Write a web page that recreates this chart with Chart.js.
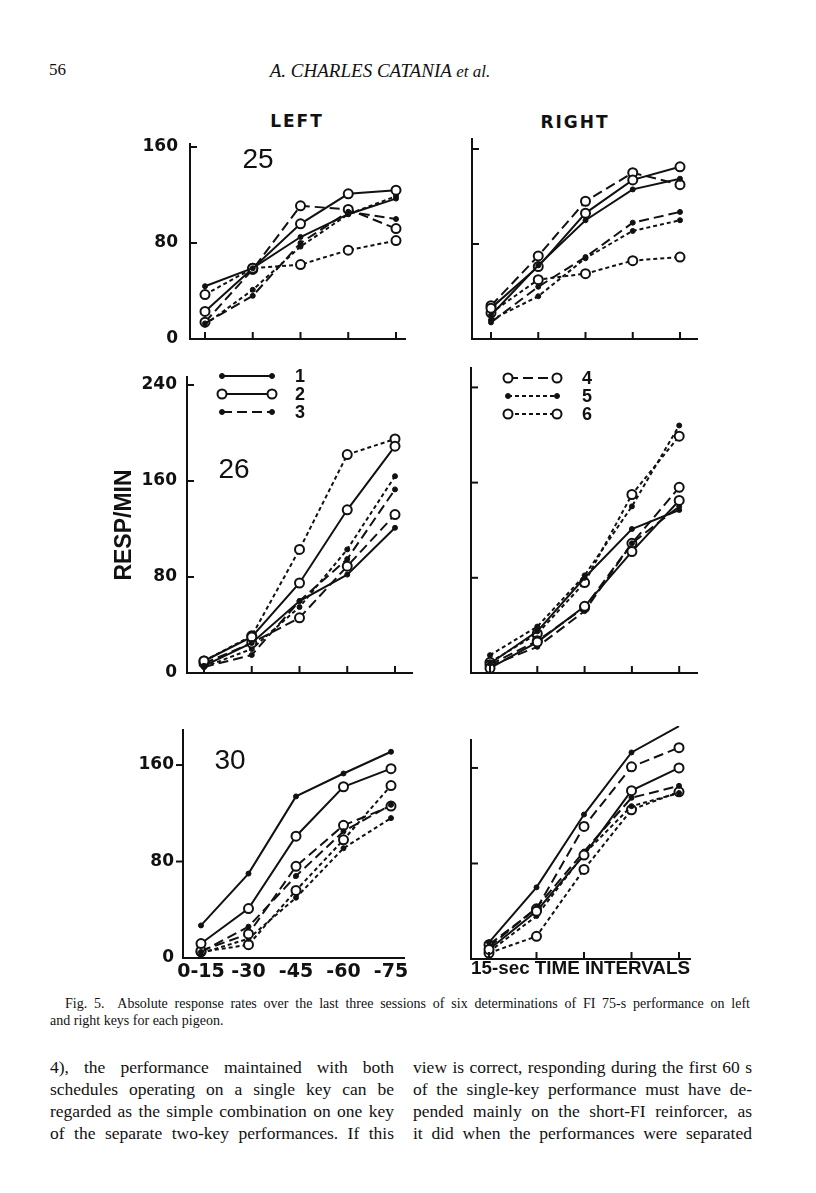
<!DOCTYPE html>
<html>
<head>
<meta charset="utf-8">
<script src="https://cdn.jsdelivr.net/npm/chart.js@4.4.0/dist/chart.umd.min.js"></script>
<style>
html, body { margin: 0; padding: 0; background: #fff; }
#page { position: relative; width: 816px; height: 1193px; overflow: hidden; background: #fff; color: #111; }
#page canvas { position: absolute; }
.txt { position: absolute; white-space: nowrap; }
.mid { transform: translate(-50%, -50%); }
.serif { font-family: "Liberation Serif", "DejaVu Serif", serif; }
.head { font-family: "DejaVu Sans", sans-serif; font-weight: bold; font-size: 17px; letter-spacing: 2px; }
.jl { text-align: justify; text-align-last: justify; white-space: normal; }
.cap { font-size: 14px; line-height: 16px; }
.body { font-size: 17.5px; line-height: 22px; }
</style>
</head>
<body>
<div id="page">
  <div class="txt serif" style="left:49px; top:60px; font-size:17px;">56</div>
  <div class="txt serif mid" style="left:380px; top:71px; font-size:19px; font-style:italic;">A. CHARLES CATANIA <span style="font-size:17px">et al.</span></div>

  <div class="txt head mid" style="left:297px; top:121px;">LEFT</div>
  <div class="txt head mid" style="left:575px; top:122px;">RIGHT</div>

  <canvas id="c25L"></canvas>
  <canvas id="c25R"></canvas>
  <canvas id="c26L"></canvas>
  <canvas id="c26R"></canvas>
  <canvas id="c30L"></canvas>
  <canvas id="c30R"></canvas>

  <div class="txt serif cap jl" style="left:65px; top:996px; width:685px;">Fig. 5.&nbsp; Absolute response rates over the last three sessions of six determinations of FI 75-s performance on left</div>
  <div class="txt serif cap" style="left:50px; top:1013px;">and right keys for each pigeon.</div>

  <div class="txt serif body jl" style="left:50px; top:1056px; width:344px;">4), the performance maintained with both</div>
  <div class="txt serif body jl" style="left:50px; top:1078px; width:344px;">schedules operating on a single key can be</div>
  <div class="txt serif body jl" style="left:50px; top:1100px; width:344px;">regarded as the simple combination on one key</div>
  <div class="txt serif body jl" style="left:50px; top:1122px; width:344px;">of the separate two-key performances. If this</div>
  <div class="txt serif body jl" style="left:413px; top:1056px; width:339px;">view is correct, responding during the first 60 s</div>
  <div class="txt serif body jl" style="left:413px; top:1078px; width:339px;">of the single-key performance must have de-</div>
  <div class="txt serif body jl" style="left:413px; top:1100px; width:339px;">pended mainly on the short-FI reinforcer, as</div>
  <div class="txt serif body jl" style="left:413px; top:1122px; width:339px;">it did when the performances were separated</div>
</div>

<script>
// x categories (15-s intervals) and the six determinations
const intervals = ['0-15', '-30', '-45', '-60', '-75'];
const determinations = ['1', '2', '3', '4', '5', '6'];
const yTicks160 = [0, 80, 160];
const yTicks240 = [0, 80, 160, 240];

// resp/min, one row per determination 1..6
const left25 = [
    [44, 59, 85, 104, 117],
    [23, 59, 96, 121, 124],
    [13, 36, 80, 106, 100],
    [14, 58, 111, 108, 92],
    [12, 41, 77, 104, 119],
    [37, 59, 62, 74, 82]
];
const right25 = [
    [20, 62, 100, 126, 135],
    [26, 61, 106, 134, 145],
    [14, 44, 69, 98, 107],
    [28, 70, 116, 140, 130],
    [16, 36, 68, 91, 100],
    [22, 50, 55, 66, 69]
];
const left26 = [
    [6, 25, 60, 82, 121],
    [10, 30, 75, 136, 189],
    [5, 15, 60, 95, 153],
    [8, 25, 46, 89, 132],
    [5, 20, 55, 103, 164],
    [10, 31, 103, 182, 195]
];
const right26 = [
    [8, 35, 80, 121, 137],
    [4, 26, 56, 102, 145],
    [6, 22, 52, 109, 140],
    [7, 27, 55, 109, 156],
    [15, 39, 82, 140, 208],
    [9, 33, 76, 150, 199]
];
const left30 = [
    [27, 70, 134, 153, 171],
    [12, 41, 101, 142, 157],
    [5, 26, 68, 105, 127],
    [6, 20, 76, 110, 126],
    [4, 16, 50, 91, 116],
    [5, 11, 56, 98, 143]
];
const right30 = [
    [14, 60, 121, 173, 195],
    [8, 40, 87, 141, 160],
    [10, 43, 90, 135, 145],
    [12, 42, 111, 161, 177],
    [6, 36, 88, 128, 139],
    [5, 19, 75, 125, 140]
];

const ink = '#111';

// line style per determination: 1 solid dot, 2 solid open, 3 long dash dot,
// 4 long dash open, 5 short dash dot, 6 short dash open
const seriesStyle = [
    { dash: [], open: false },
    { dash: [], open: true },
    { dash: [10, 5], open: false },
    { dash: [10, 5], open: true },
    { dash: [4, 3], open: false },
    { dash: [4, 3], open: true }
];

// inner tick marks, panel number and the split legend
const panelDecor = {
    id: 'panelDecor',
    afterDraw(chart, args, opts) {
        const { ctx, chartArea: a, scales: { x, y } } = chart;
        ctx.save();
        ctx.strokeStyle = ink;
        ctx.lineWidth = 2;
        if (opts.xMarks) {
            x.ticks.forEach(t => {
                const px = x.getPixelForValue(t.value);
                ctx.beginPath();
                ctx.moveTo(px, a.bottom);
                ctx.lineTo(px, a.bottom - 7);
                ctx.stroke();
            });
        }
        y.ticks.forEach(t => {
            if (t.value === 0) return;
            const py = y.getPixelForValue(t.value);
            ctx.beginPath();
            ctx.moveTo(a.left, py);
            ctx.lineTo(a.left + opts.yMarkDir * 7, py);
            ctx.stroke();
        });
        ctx.fillStyle = ink;
        if (opts.number) {
            ctx.font = '28px "Liberation Sans", Arial, sans-serif';
            ctx.textAlign = 'center';
            ctx.textBaseline = 'middle';
            ctx.fillText(opts.number, a.left + opts.numberAt[0], a.top + opts.numberAt[1]);
        }
        if (opts.legend) {
            const lg = opts.legend;
            ctx.font = 'bold 18px "Liberation Sans", Arial, sans-serif';
            ctx.textAlign = 'center';
            ctx.textBaseline = 'middle';
            lg.items.forEach((k, r) => {
                const ds = chart.data.datasets[k];
                const yy = a.top + lg.y0 + r * lg.dy;
                const x1 = a.left + lg.x1, x2 = a.left + lg.x2;
                ctx.setLineDash(ds.borderDash);
                ctx.lineWidth = 2;
                ctx.beginPath();
                ctx.moveTo(x1, yy);
                ctx.lineTo(x2, yy);
                ctx.stroke();
                ctx.setLineDash([]);
                [x1, x2].forEach(px => {
                    ctx.beginPath();
                    ctx.arc(px, yy, ds.pointRadius, 0, Math.PI * 2);
                    ctx.fillStyle = ds.pointBackgroundColor;
                    ctx.fill();
                    ctx.lineWidth = ds.pointBorderWidth;
                    ctx.stroke();
                });
                ctx.fillStyle = ink;
                ctx.fillText(ds.label, a.left + lg.tx, yy + 1);
            });
        }
        ctx.restore();
    }
};

function makeDatasets(rows) {
    return rows.map((vals, i) => {
        const st = seriesStyle[i];
        return {
            label: determinations[i],
            data: vals.map((v, j) => ({ x: j, y: v })),
            borderColor: ink,
            borderWidth: 2,
            borderDash: st.dash,
            pointRadius: st.open ? 4.5 : 2.5,
            pointBorderWidth: st.open ? 2 : 1,
            pointBackgroundColor: st.open ? '#fff' : ink,
            pointBorderColor: ink,
            tension: 0,
            clip: false
        };
    });
}

// geometry of each panel on the page: axis box L..R, T..B, first-interval pixel and spacing
const panels = [
    { id: 'c25L', rows: left25, L: 190, R: 405, T: 144, B: 339, x0: 205, dx: 47.75, ppu: 1.2, yTicks: yTicks160,
      AW: 60, AH: 10, yLabels: true, yPad: 12, yMarkDir: 1, xMarks: true, number: '25', numberAt: [68, 16] },
    { id: 'c25R', rows: right25, L: 472, R: 697, T: 139, B: 339, x0: 491, dx: 47.25, ppu: 1.1875, yTicks: yTicks160,
      AW: 20, AH: 10, yLabels: false, yMarkDir: 1, xMarks: true },
    { id: 'c26L', rows: left26, L: 187, R: 412, T: 377, B: 673, x0: 204, dx: 47.75, ppu: 1.2, yTicks: yTicks240,
      AW: 76, AH: 10, yLabels: true, yPad: 10, yMarkDir: 1, xMarks: true, number: '26', numberAt: [47, 93],
      yTitle: 'RESP/MIN',
      legend: { items: [0, 1, 2], x1: 35, x2: 85, tx: 113, y0: -1, dy: 18 } },
    { id: 'c26R', rows: right26, L: 471, R: 697, T: 368, B: 673, x0: 490, dx: 47.3, ppu: 1.19, yTicks: yTicks240,
      AW: 20, AH: 10, yLabels: false, yMarkDir: 1, xMarks: true,
      legend: { items: [3, 4, 5], x1: 37, x2: 86, tx: 116, y0: 10, dy: 18 } },
    { id: 'c30L', rows: left30, L: 183, R: 404, T: 730, B: 958, x0: 201, dx: 47.5, ppu: 1.206, yTicks: yTicks160,
      AW: 60, AH: 32, yLabels: true, yPad: 9, yMarkDir: -1, xMarks: false, xLabels: true, number: '30', numberAt: [47, 31] },
    { id: 'c30R', rows: right30, L: 471, R: 690, T: 740, B: 959, x0: 489, dx: 47.5, ppu: 1.194, yTicks: yTicks160,
      AW: 20, AH: 21, yLabels: false, yMarkDir: 1, xMarks: true, xTitle: '15-sec TIME INTERVALS' }
];

const padTop = 14, padRight = 12;

panels.forEach(p => {
    const cv = document.getElementById(p.id);
    cv.width = p.R - p.L + p.AW + padRight;
    cv.height = p.B - p.T + padTop + p.AH;
    cv.style.left = (p.L - p.AW) + 'px';
    cv.style.top = (p.T - padTop) + 'px';

    try {
        new Chart(cv, {
            type: 'line',
            data: { datasets: makeDatasets(p.rows) },
            plugins: [panelDecor],
            options: {
                responsive: false,
                animation: false,
                events: [],
                layout: { padding: { left: 0, top: padTop, right: padRight, bottom: 0 } },
                plugins: {
                    legend: { display: false },
                    tooltip: { enabled: false },
                    panelDecor: {
                        xMarks: p.xMarks, yMarkDir: p.yMarkDir,
                        number: p.number, numberAt: p.numberAt, legend: p.legend
                    }
                },
                scales: {
                    x: {
                        type: 'linear',
                        min: (p.L - p.x0) / p.dx,
                        max: (p.R - p.x0) / p.dx,
                        grid: { display: false, drawTicks: false },
                        border: { display: true, color: ink, width: 2 },
                        ticks: {
                            display: !!p.xLabels,
                            autoSkip: false,
                            maxRotation: 0,
                            minRotation: 0,
                            padding: 3,
                            color: ink,
                            font: { family: 'DejaVu Sans', weight: 'bold', size: 19 },
                            callback: v => intervals[v]
                        },
                        title: {
                            display: !!p.xTitle,
                            text: p.xTitle || '',
                            color: ink,
                            padding: 0,
                            font: { family: 'Liberation Sans', weight: 'bold', size: 19 }
                        },
                        afterBuildTicks: s => { s.ticks = intervals.map((_, i) => ({ value: i })); },
                        afterFit: s => { s.height = p.AH; s.paddingLeft = 0; s.paddingRight = 0; }
                    },
                    y: {
                        type: 'linear',
                        min: 0,
                        max: (p.B - p.T) / p.ppu,
                        grid: { display: false, drawTicks: false },
                        border: { display: true, color: ink, width: 2 },
                        ticks: {
                            display: p.yLabels,
                            padding: p.yPad || 0,
                            color: ink,
                            font: { family: 'DejaVu Sans', weight: 'bold', size: 17 }
                        },
                        title: {
                            display: !!p.yTitle,
                            text: p.yTitle || '',
                            color: ink,
                            padding: 0,
                            font: { family: 'Liberation Sans', weight: 'bold', size: 23 }
                        },
                        afterBuildTicks: s => { s.ticks = p.yTicks.map(v => ({ value: v })); },
                        afterFit: s => { s.width = p.AW; s.paddingTop = 0; s.paddingBottom = 0; }
                    }
                }
            }
        });
    } catch (err) {
        console.error('Error creating panel ' + p.id + ':', err);
    }
});
</script>
</body>
</html>
